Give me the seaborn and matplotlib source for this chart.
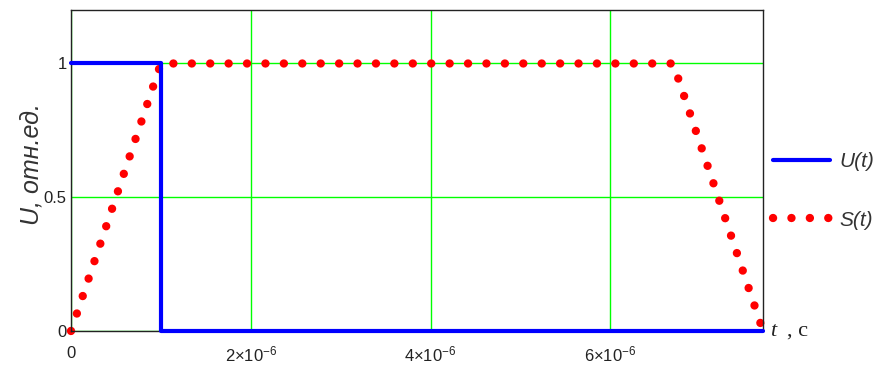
import matplotlib
matplotlib.use("Agg")
import matplotlib.pyplot as plt
import seaborn as sns
import pandas as pd

# pulse U(t): step down at 1 us
u_t = [0.0, 1e-6, 1e-6, 7.7e-6]
u_val = [1.0, 1.0, 0.0, 0.0]

# response S(t): trapezoid corners
s_t = [0.0, 1e-6, 6.7e-6, 7.7e-6]
s_val = [0.0, 1.0, 1.0, 0.0]

x_ticks = [0, 2e-6, 4e-6, 6e-6]
x_labels = ["$0$", r"$2{\times}10^{-6}$", r"$4{\times}10^{-6}$", r"$6{\times}10^{-6}$"]
y_ticks = [0, 0.5, 1]
y_labels = ["0", "0.5", "1"]

sns.set_style("white")
plt.rcParams["font.family"] = ["Liberation Sans", "DejaVu Sans"]
plt.rcParams["mathtext.default"] = "regular"

df_u = pd.DataFrame({"t": u_t, "v": u_val})
df_s = pd.DataFrame({"t": s_t, "v": s_val})

fig = plt.figure(figsize=(8.93, 3.70), dpi=100)
ax = fig.add_axes([0.0795, 0.1054, 0.775, 0.8676])

ax.grid(True, color="#00ff00", linewidth=1.0)
ax.set_axisbelow(True)

sns.lineplot(data=df_s, x="t", y="v", estimator=None, sort=False, ax=ax,
             color="#ff0000", linewidth=6.0, label="S(t)")
sns.lineplot(data=df_u, x="t", y="v", estimator=None, sort=False, ax=ax,
             color="#0000ff", linewidth=3.0, label="U(t)")
lines = ax.get_lines()
s_line, u_line = lines[0], lines[1]
s_line.set_dashes((0.01, 2.2))
s_line.set_dash_capstyle("round")
s_line.set_clip_on(False)
u_line.set_clip_on(False)
u_line.set_zorder(3)

ax.set_xlim(0, 7.7e-6)
ax.set_ylim(0, 1.2)
ax.set_xticks(x_ticks)
ax.set_xticklabels(x_labels)
ax.set_yticks(y_ticks)
ax.set_yticklabels(y_labels)
ax.tick_params(axis="x", length=0, pad=10, labelsize=12, colors="#222222")
ax.tick_params(axis="y", length=0, pad=3, labelsize=12, colors="#222222")
for sp in ax.spines.values():
    sp.set_color("#222222")
    sp.set_linewidth(1.0)

ax.set_xlabel("")
ax.set_ylabel("U, отн.ед.", fontsize=18, style="italic", color="#333333")
ax.yaxis.set_label_coords(-0.04, 0.52)

fig.text(0.862, 0.105, "t", fontsize=16, style="italic", family="Liberation Serif",
         color="#222222", va="center")
fig.text(0.881, 0.105, ", c", fontsize=16, family="Liberation Serif",
         color="#222222", va="center")

ax.get_legend().remove()
leg = fig.legend(handles=[u_line, s_line], labels=["U(t)", "S(t)"],
                 loc="center left", bbox_to_anchor=(0.866, 0.484), frameon=False,
                 handlelength=2.7, labelspacing=1.9, handletextpad=0.45,
                 borderaxespad=0, borderpad=0, prop={"size": 15, "style": "italic"})
for t in leg.get_texts():
    t.set_color("#333333")

fig.savefig("out.png", dpi=100)
